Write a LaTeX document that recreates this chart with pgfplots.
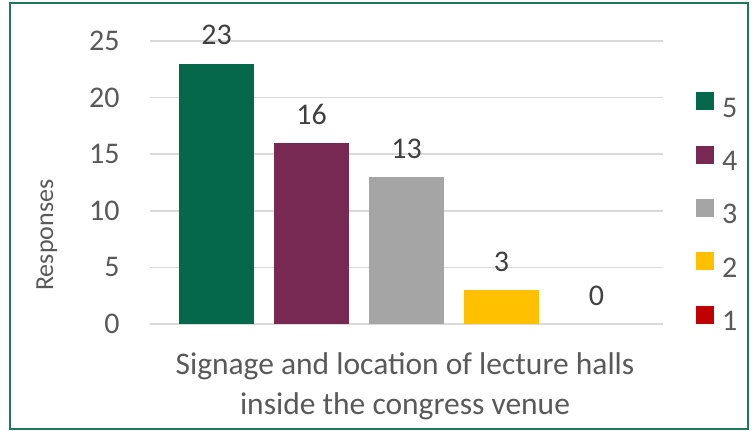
\documentclass[border=0pt]{standalone}
\usepackage{fontspec}
\setmainfont{Carlito}
\usepackage{pgfplots}
\pgfplotsset{compat=1.18}

\definecolor{c5}{RGB}{6,104,74}
\definecolor{c4}{RGB}{119,41,83}
\definecolor{c3}{RGB}{165,165,165}
\definecolor{c2}{RGB}{255,192,0}
\definecolor{c1}{RGB}{192,0,0}
\definecolor{txt}{RGB}{89,89,89}
\definecolor{lbl}{RGB}{64,64,64}
\definecolor{gridc}{RGB}{217,217,217}
\definecolor{framec}{RGB}{30,120,90}

\newcommand{\bigf}{\fontsize{30bp}{36bp}\selectfont}

\begin{document}
\begin{tikzpicture}
\begin{axis}[
  scale only axis,
  width=513bp, height=283bp,
  ybar=20bp, bar width=75bp,
  xmin=-1, xmax=1,
  ymin=0, ymax=25,
  ytick={0,5,...,25},
  xtick=\empty,
  axis line style={draw=none},
  major tick length=0pt,
  ymajorgrids,
  grid style={gridc, line width=1.5bp},
  /pgf/number format/assume math mode=true,
  yticklabel style={font=\bigf, text=txt, xshift=-27bp},
  ylabel={Responses},
  every axis y label/.style={at={(rel axis cs:0,0.314)}, xshift=-103bp,
    rotate=90, anchor=center, font=\fontsize{26bp}{31bp}\selectfont, text=txt},
  nodes near coords,
  every node near coord/.append style={font=\bigf, text=lbl, yshift=15bp},
  legend image code/.code={\fill[#1] (0bp,-2bp) rectangle (18bp,16bp);},
  legend style={draw=none, fill=none, at={(rel axis cs:1,1)}, anchor=north west,
    xshift=33bp, yshift=-51bp, font=\bigf, text=txt, row sep=25bp,
    inner sep=0pt, nodes={inner xsep=8bp}},
  legend cell align=left,
]
\addplot[fill=c5, draw=none] coordinates {(0,23)};
\addplot[fill=c4, draw=none] coordinates {(0,16)};
\addplot[fill=c3, draw=none] coordinates {(0,13)};
\addplot[fill=c2, draw=none] coordinates {(0,3)};
% zero-height bar: hide the hairline, keep the legend swatch
\addplot[fill=c1, draw=none, fill opacity=0, text opacity=1,
  legend image code/.code={\fill[c1, fill opacity=1] (0bp,-2bp) rectangle (18bp,16bp);}]
  coordinates {(0,0)};
\legend{5,4,3,2,1}
\end{axis}
\node[font=\fontsize{31.5bp}{40bp}\selectfont, text=txt, align=center, anchor=center]
  at ([xshift=-1.5bp,yshift=-62bp]current axis.south)
  {Signage and location of lecture halls\\inside the congress venue};
\draw[framec, line width=2bp] ([xshift=-140bp,yshift=-105bp]current axis.south west)
  rectangle ([xshift=85bp,yshift=38bp]current axis.north east);
\path ([xshift=-150bp,yshift=-107bp]current axis.south west)
  rectangle ([xshift=90bp,yshift=41bp]current axis.north east);
\end{tikzpicture}
\end{document}
